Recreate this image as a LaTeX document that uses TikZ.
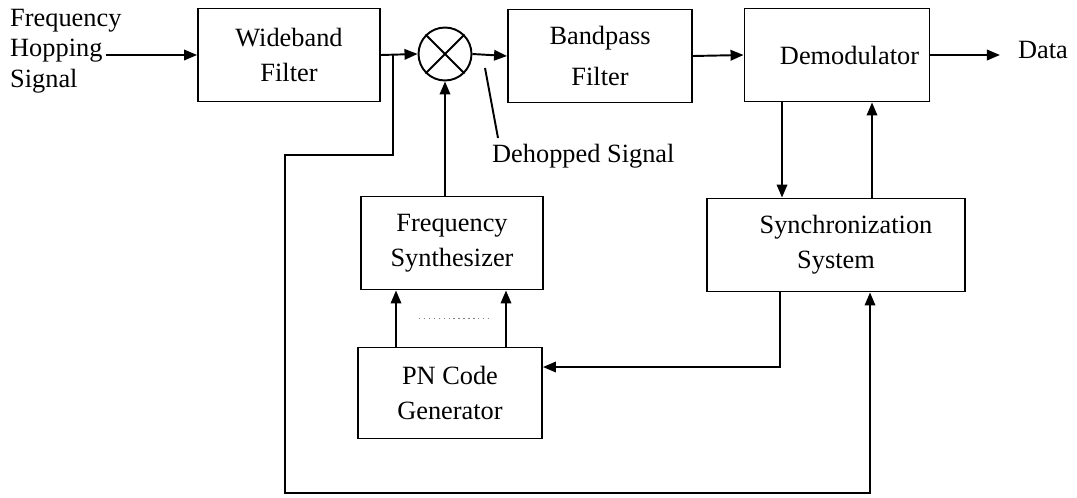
\documentclass[tikz,border=0pt]{standalone}
\usepackage{fontspec}
\setmainfont{Liberation Serif}
\usetikzlibrary{arrows.meta,positioning,calc}

\tikzset{
    blk/.style={draw,line width=1.1pt,minimum height=1.86cm,align=center,
        font=\fontsize{15}{20}\selectfont},
    arr/.style={line width=1.1pt,-{Triangle[length=0.26cm,width=0.21cm]}},
    wire/.style={line width=1.1pt},
    lbl/.style={font=\fontsize{15}{17.5}\selectfont}
}

\begin{document}
\begin{tikzpicture}[x=0.02cm,y=-0.02cm]
    \useasboundingbox (0,0) rectangle (1077,497);
    % blocks
    \node[blk,minimum width=3.64cm] (wide) at (289,55) {Wideband\\Filter};
    \node[draw,circle,line width=1.1pt,minimum size=1.06cm] (mix) at (445,54) {};
    \draw[wire] (mix.45) -- (mix.225) (mix.135) -- (mix.315);
    \node[blk,minimum width=3.68cm,font=\fontsize{15}{23}\selectfont] (bpf) at (600,56) {Bandpass\\Filter};
    \node[blk,minimum width=3.7cm] (demod) at (837,55) {\hspace*{0.5cm}Demodulator};
    \node[blk,minimum width=5.16cm] (sync) at (836,245) {\hspace*{0.4cm}Synchronization\\System};
    \node[blk,minimum width=3.64cm] (synth) at (452,243) {Frequency\\Synthesizer};
    \node[blk,minimum width=3.68cm,minimum height=1.82cm] (pn) at (450,393) {PN Code\\Generator};
    % labels
    \node[lbl,align=left,anchor=west] (in) at (4,51) {Frequency\\Hopping\\Signal};
    \node[lbl] (data) at (1043,50) {Data};
    \node[lbl,anchor=north west] (dehop) at (486,138) {Dehopped Signal};
    \coordinate (hop) at (106,55);
    \coordinate (jn) at (393,55);
    \coordinate (dh) at (485,68);
    \coordinate (fb1) at (285,155);
    \coordinate (fb2) at (285,493);
    % signal path
    \draw[arr] (hop) -- (wide.west);
    \draw[arr] (wide.east) -- (mix.west);
    \draw[arr] (mix.east) -- (bpf.west);
    \draw[arr] (bpf.east) -- (demod.west);
    \draw[arr,shorten >=0.24cm] (demod.east) -- (demod.east -| data.west);
    \draw[wire] (dh) -- ([xshift=0.24cm]dehop.north west);
    % hop control
    \draw[arr] (synth.north -| mix) -- (mix.south);
    \foreach \dx in {-1.08cm,1.12cm}
        \draw[arr] ([xshift=\dx]pn.north) -- ([xshift=\dx]pn.north |- synth.south);
    \draw[dotted,gray,thick] ($(pn.north)!0.5!(synth.south)+(-32,0)$) -- ++(70,0);
    % tracking loop
    \draw[arr] ([xshift=-1.1cm]demod.south) -- ([xshift=-1.1cm]demod.south |- sync.north);
    \draw[arr] ([xshift=0.7cm]demod.south |- sync.north) -- ([xshift=0.7cm]demod.south);
    \draw[arr] ([xshift=-1.12cm]sync.south) |- ([yshift=0.52cm]pn.east);
    \draw[arr] (jn) |- (fb1) -- (fb2) -| ([xshift=0.68cm]sync.south);
\end{tikzpicture}
\end{document}
